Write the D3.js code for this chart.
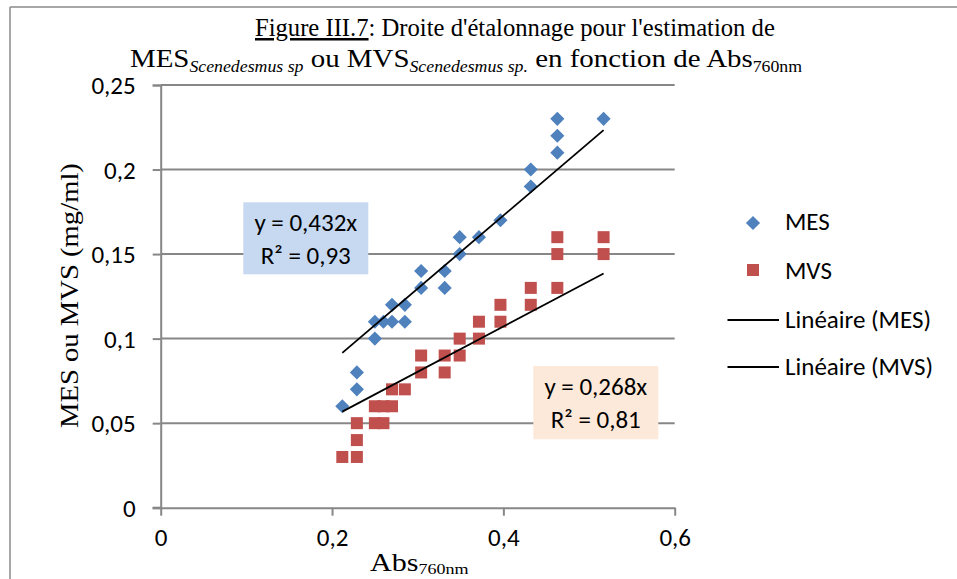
<!DOCTYPE html>
<html>
<head>
<meta charset="utf-8">
<script src="https://cdn.jsdelivr.net/npm/d3@7"></script>
<style>
  html, body { margin: 0; padding: 0; background: #fff; }
  svg { display: block; }
</style>
</head>
<body>
<svg id="chart" width="957" height="579"></svg>
<script>
// Calibration data: absorbance at 760 nm vs. MES / MVS (mg/ml)
const xTicks = [0, 0.2, 0.4, 0.6];
const yTicks = [0, 0.05, 0.1, 0.15, 0.2, 0.25];

const mesAbs = [0.212, 0.229, 0.229, 0.25, 0.25, 0.26, 0.27, 0.27, 0.285, 0.285, 0.304, 0.304,
                0.3315, 0.3315, 0.349, 0.349, 0.3715, 0.3966, 0.432, 0.432, 0.463, 0.463, 0.463, 0.517];
const mesVal = [0.06, 0.07, 0.08, 0.10, 0.11, 0.11, 0.11, 0.12, 0.11, 0.12, 0.13, 0.14,
                0.13, 0.14, 0.15, 0.16, 0.16, 0.17, 0.19, 0.20, 0.21, 0.22, 0.23, 0.23];

const mvsAbs = [0.212, 0.229, 0.229, 0.229, 0.25, 0.26, 0.25, 0.26, 0.27, 0.27, 0.285, 0.304, 0.3315, 0.304,
                0.3315, 0.349, 0.349, 0.3715, 0.3715, 0.3966, 0.3966, 0.432, 0.432, 0.463, 0.463, 0.463, 0.517, 0.517];
const mvsVal = [0.03, 0.03, 0.04, 0.05, 0.05, 0.05, 0.06, 0.06, 0.06, 0.07, 0.07, 0.08, 0.08, 0.09,
                0.09, 0.09, 0.10, 0.10, 0.11, 0.11, 0.12, 0.12, 0.13, 0.13, 0.15, 0.16, 0.15, 0.16];

// Linear fits through the origin
const slopes = [0.432, 0.268];
const r2 = [0.93, 0.81];
const seriesNames = ["MES", "MVS"];
const colors = ["#4F81BD", "#C0504D"];

const fmt = v => String(v).replace(".", ",");

const svg = d3.select("#chart");
const SANS = "Carlito, Lato, 'Open Sans', sans-serif";
const SERIF = "'Liberation Serif', 'DejaVu Serif', serif";
const SANS_SIZE = 25;

const x = d3.scaleLinear().domain([0, 0.6]).range([160.7, 674.7]);
const y = d3.scaleLinear().domain([0, 0.25]).range([507.7, 85]);

// Stretch a text element horizontally so its rendered width equals w
function fitWidth(sel, w) {
  const node = sel.node();
  const bb = node.getBBox();
  const k = w / bb.width;
  const ax = bb.x;
  sel.attr("transform", `translate(${ax},0) scale(${k},1) translate(${-ax},0)`);
}

// Frame of the surrounding figure box
svg.append("line").attr("x1", 10).attr("x2", 957).attr("y1", 7).attr("y2", 7)
  .attr("stroke", "#8a8a8a").attr("stroke-width", 1.5);
svg.append("line").attr("x1", 10).attr("x2", 10).attr("y1", 7).attr("y2", 579)
  .attr("stroke", "#8a8a8a").attr("stroke-width", 1.5);

// Horizontal gridlines
svg.append("g").selectAll("line")
  .data(yTicks.filter(t => t > 0))
  .join("line")
  .attr("x1", x(0)).attr("x2", x(0.6))
  .attr("y1", d => y(d)).attr("y2", d => y(d))
  .attr("stroke", "#878787").attr("stroke-width", 2);

// Y axis
const yAxis = d3.axisLeft(y).tickValues(yTicks).tickSize(8).tickPadding(17).tickFormat(fmt);
const gy = svg.append("g").attr("transform", `translate(${x(0)},0)`).call(yAxis);
gy.select(".domain").attr("stroke", "#878787").attr("stroke-width", 2);
gy.selectAll(".tick line").attr("stroke", "#878787").attr("stroke-width", 2);
gy.selectAll(".tick text").attr("font-family", SANS).attr("font-size", SANS_SIZE).attr("fill", "#000")
  .attr("dy", "0.35em");

// X axis
const xAxis = d3.axisBottom(x).tickValues(xTicks).tickSizeInner(8).tickSizeOuter(0).tickPadding(13).tickFormat(fmt);
const gx = svg.append("g").attr("transform", `translate(0,${y(0)})`).call(xAxis);
gx.select(".domain").attr("stroke", "#878787").attr("stroke-width", 2);
gx.selectAll(".tick line").attr("stroke", "#878787").attr("stroke-width", 2);
gx.selectAll(".tick text").attr("font-family", SANS).attr("font-size", SANS_SIZE).attr("fill", "#000");
// small stub to the left of the origin, like the other y ticks
svg.append("line").attr("x1", x(0) - 8).attr("x2", x(0)).attr("y1", y(0)).attr("y2", y(0))
  .attr("stroke", "#878787").attr("stroke-width", 2);

// Markers
const diamond = d3.symbol().type(d3.symbolSquare).size(100);
svg.append("g").selectAll("path")
  .data(mesAbs.map((a, i) => [a, mesVal[i]]))
  .join("path")
  .attr("d", diamond)
  .attr("transform", d => `translate(${x(d[0])},${y(d[1])}) rotate(45)`)
  .attr("fill", colors[0]);

svg.append("g").selectAll("rect")
  .data(mvsAbs.map((a, i) => [a, mvsVal[i]]))
  .join("rect")
  .attr("x", d => x(d[0]) - 6).attr("y", d => y(d[1]) - 6)
  .attr("width", 12).attr("height", 12)
  .attr("fill", colors[1]);

// Trendlines over the sampled absorbance range
const absRange = d3.extent(mesAbs.concat(mvsAbs));
slopes.forEach(s => {
  svg.append("line")
    .attr("x1", x(absRange[0])).attr("y1", y(s * absRange[0]))
    .attr("x2", x(absRange[1])).attr("y2", y(s * absRange[1]))
    .attr("stroke", "#000").attr("stroke-width", 1.8);
});

// Equation labels
const eqBoxes = [
  { x0: 243.3, y0: 202.3, w: 125, h: 72, fill: "#C6D9F1" },
  { x0: 533.3, y0: 366, w: 125, h: 73.3, fill: "#FDE9D9" }
];
eqBoxes.forEach((b, i) => {
  svg.append("rect").attr("x", b.x0).attr("y", b.y0).attr("width", b.w).attr("height", b.h)
    .attr("fill", b.fill);
  const cx = b.x0 + b.w / 2;
  svg.append("text").attr("x", cx).attr("y", b.y0 + 29).attr("text-anchor", "middle")
    .attr("font-family", SANS).attr("font-size", SANS_SIZE).attr("fill", "#000")
    .text(`y = ${fmt(slopes[i])}x`);
  svg.append("text").attr("x", cx).attr("y", b.y0 + 62).attr("text-anchor", "middle")
    .attr("font-family", SANS).attr("font-size", SANS_SIZE).attr("fill", "#000")
    .text(`R² = ${fmt(r2[i])}`);
});

// Legend
const legend = svg.append("g");
legend.append("path").attr("d", diamond).attr("transform", "translate(753,223) rotate(45)").attr("fill", colors[0]);
legend.append("rect").attr("x", 747).attr("y", 264).attr("width", 12).attr("height", 12).attr("fill", colors[1]);
[320, 367].forEach(ly => legend.append("line").attr("x1", 727.5).attr("x2", 779).attr("y1", ly).attr("y2", ly)
  .attr("stroke", "#000").attr("stroke-width", 1.8));
const legendItems = [
  { label: seriesNames[0], y: 230 },
  { label: seriesNames[1], y: 279 },
  { label: `Linéaire (${seriesNames[0]})`, y: 328 },
  { label: `Linéaire (${seriesNames[1]})`, y: 375 }
];
legendItems.forEach(it => {
  legend.append("text").attr("x", 785).attr("y", it.y)
    .attr("font-family", SANS).attr("font-size", SANS_SIZE).attr("fill", "#000").text(it.label);
});

// Title, two lines
const t1 = svg.append("text").attr("x", 255).attr("y", 36)
  .attr("font-family", SERIF).attr("font-size", 25).attr("fill", "#000");
t1.append("tspan").attr("text-decoration", "underline").text("Figure III.7");
t1.append("tspan").text(": Droite d'étalonnage pour l'estimation de");
fitWidth(t1, 520);

const t2 = svg.append("text").attr("x", 130).attr("y", 67)
  .attr("font-family", SERIF).attr("font-size", 26).attr("fill", "#000");
t2.append("tspan").text("MES");
t2.append("tspan").attr("font-size", 16).attr("font-style", "italic").attr("dy", 5).text("Scenedesmus sp");
t2.append("tspan").attr("dy", -5).text(" ou MVS");
t2.append("tspan").attr("font-size", 16).attr("font-style", "italic").attr("dy", 5).text("Scenedesmus sp.");
t2.append("tspan").attr("dy", -5).text(" en fonction de Abs");
t2.append("tspan").attr("font-size", 16).attr("dy", 5).text("760nm");
fitWidth(t2, 673);

// Axis titles
const yt = svg.append("g").attr("transform", "translate(78,428) rotate(-90)");
const ytText = yt.append("text").attr("x", 0).attr("y", 0)
  .attr("font-family", SERIF).attr("font-size", 26).attr("fill", "#000")
  .text("MES ou MVS (mg/ml)");
fitWidth(ytText, 265);

const xt = svg.append("text").attr("x", 370).attr("y", 571)
  .attr("font-family", SERIF).attr("font-size", 25).attr("fill", "#000");
xt.append("tspan").text("Abs");
xt.append("tspan").attr("font-size", 15).attr("dy", 3).text("760nm");
fitWidth(xt, 99);
</script>
</body>
</html>
